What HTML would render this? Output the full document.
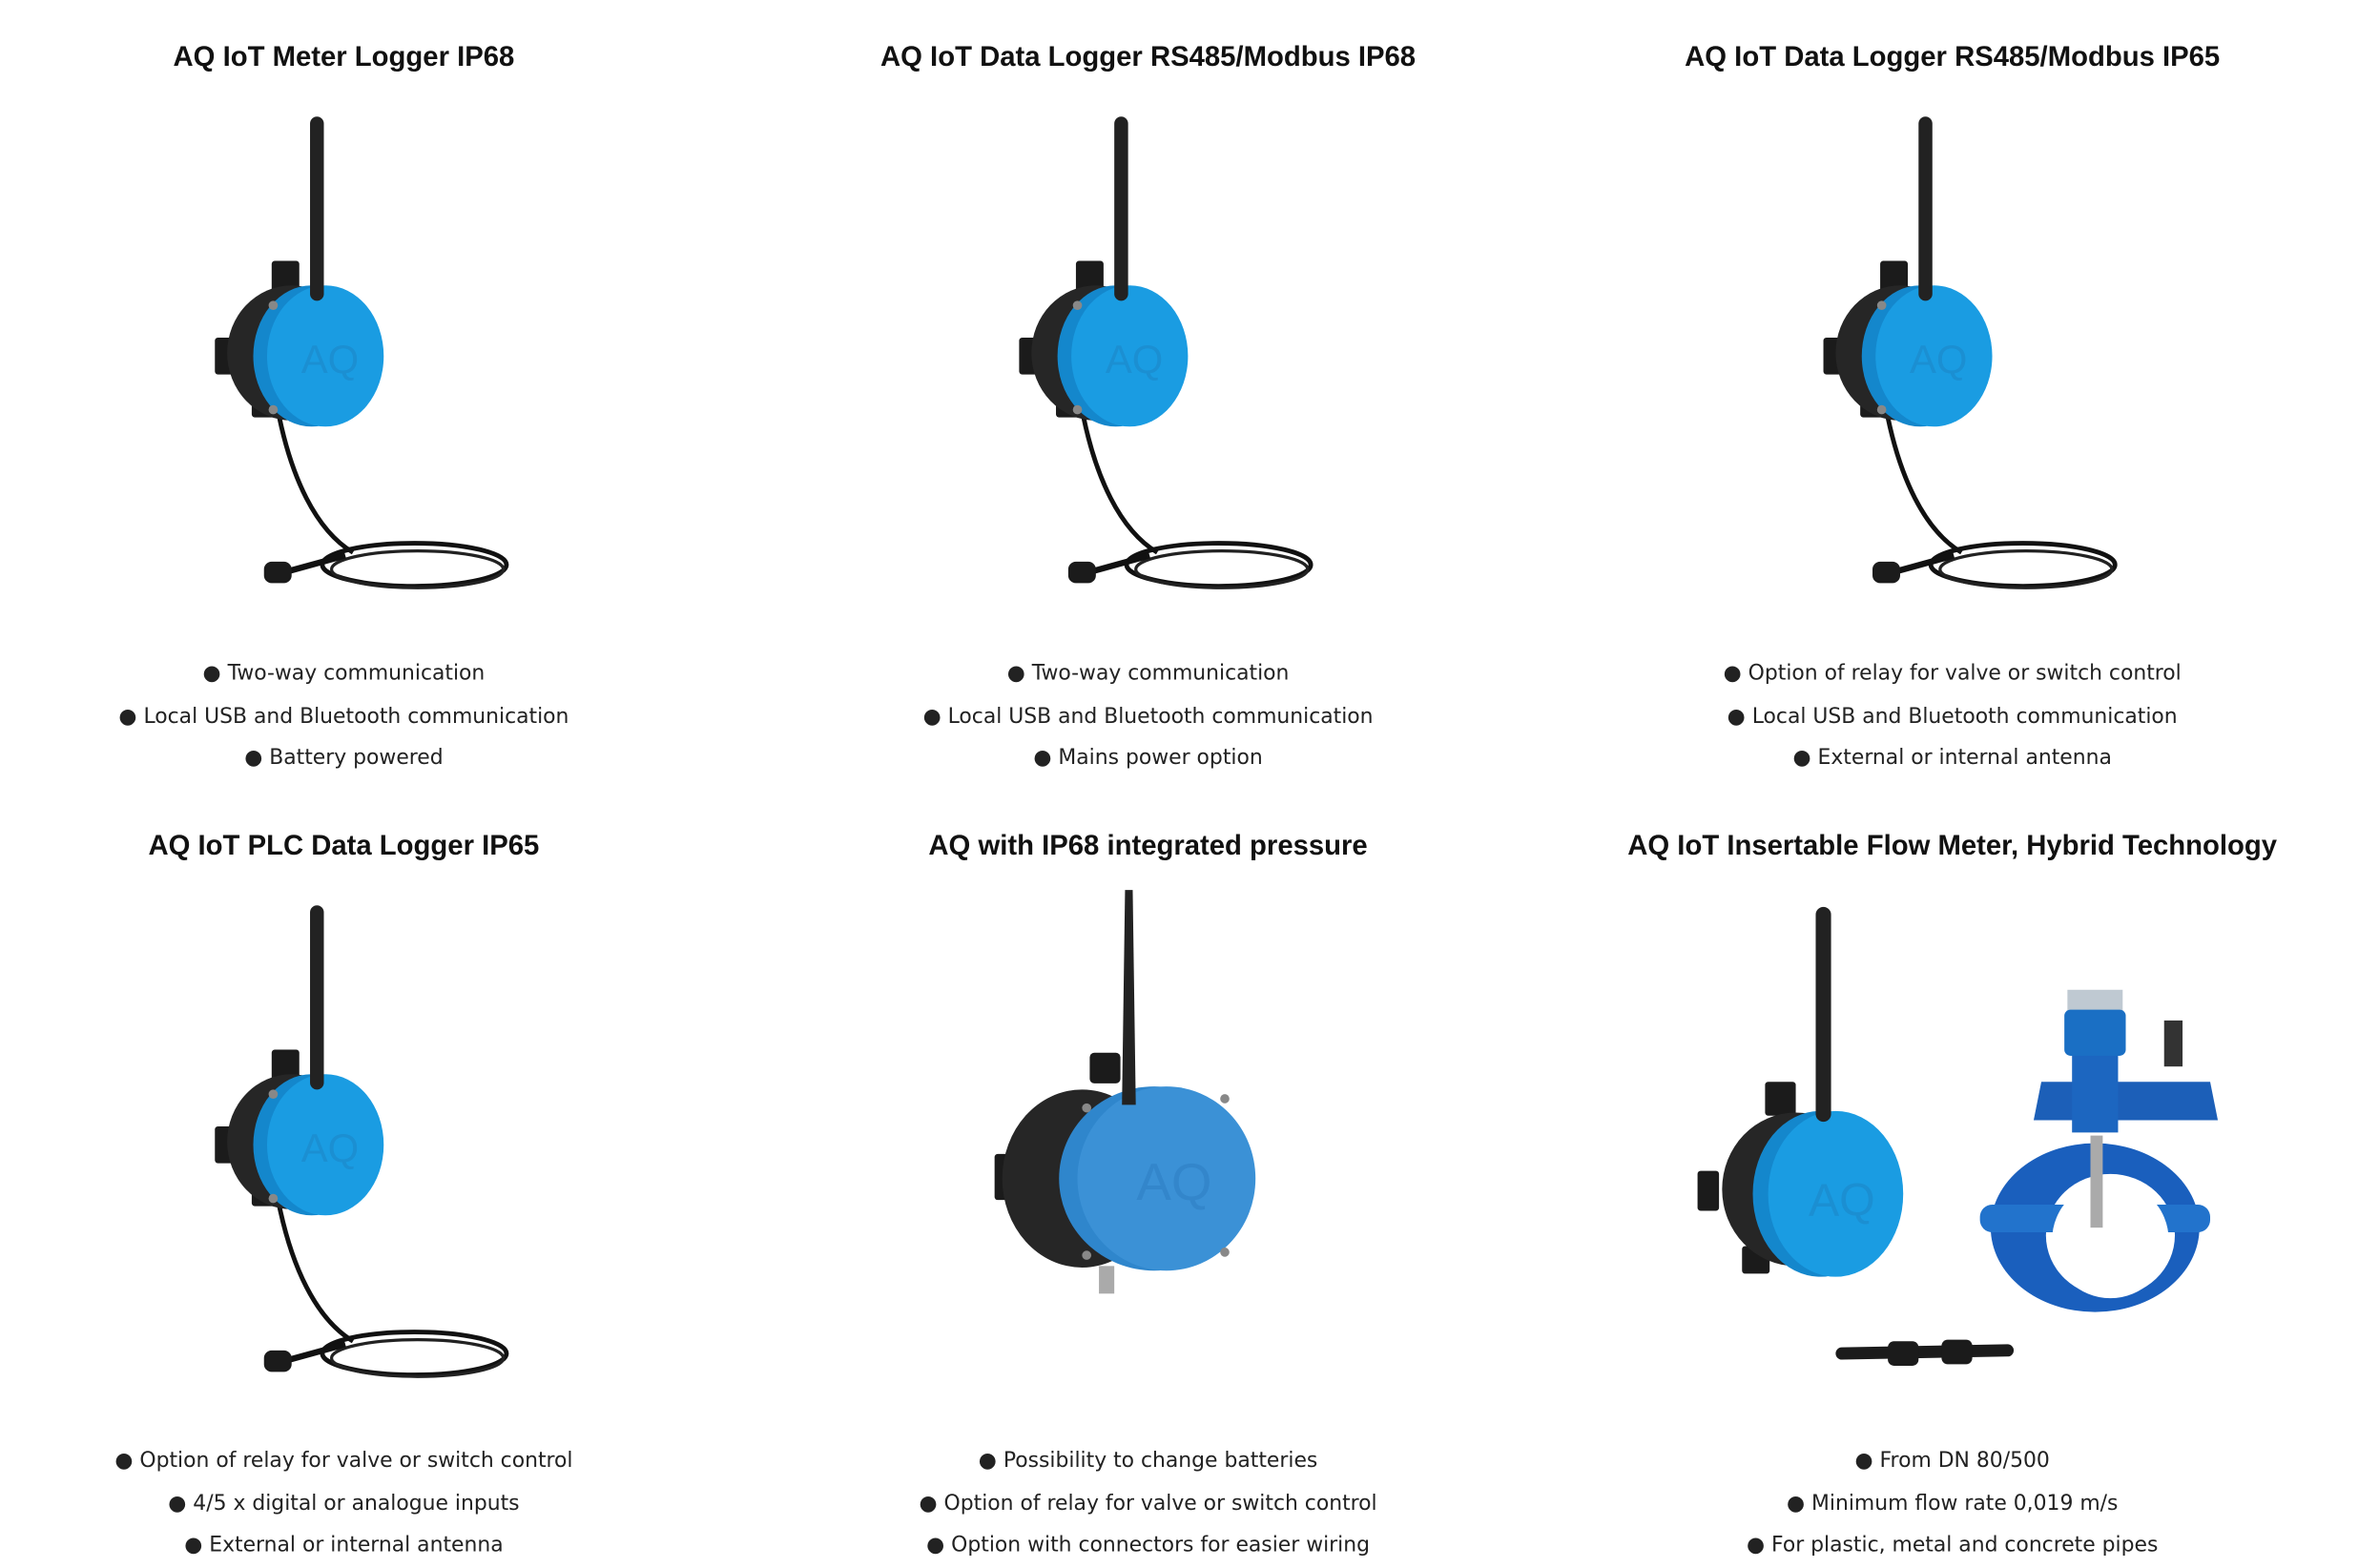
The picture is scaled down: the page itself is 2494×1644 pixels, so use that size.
<!DOCTYPE html>
<html><head><meta charset="utf-8"><style>
html,body{margin:0;padding:0;background:#fff;}
svg{display:block;}
.t{font-family:"Liberation Sans",sans-serif;font-weight:bold;font-size:18.2px;fill:#111;text-anchor:middle;}
.b{font-family:"DejaVu Sans","Liberation Sans",sans-serif;font-size:13.6px;fill:#222;text-anchor:middle;}
</style></head><body>
<svg width="2494" height="1644" viewBox="0 0 1550 1021.8" preserveAspectRatio="none" xmlns="http://www.w3.org/2000/svg">
<defs>
<g id="dev">
  <path d="M182 272 C 190 310, 205 345, 230 360" fill="none" stroke="#111" stroke-width="3"/>
  <ellipse cx="270" cy="368" rx="60" ry="14" fill="none" stroke="#111" stroke-width="3"/>
  <ellipse cx="272" cy="371" rx="56" ry="12" fill="none" stroke="#222" stroke-width="2"/>
  <path d="M185 373 L 225 362" stroke="#111" stroke-width="4"/>
  <rect x="172" y="366" width="18" height="14" rx="5" fill="#1b1b1b"/>
  <rect x="177" y="170" width="18" height="22" rx="2" fill="#1b1b1b"/>
  <rect x="140" y="220" width="14" height="24" rx="2" fill="#1b1b1b"/>
  <rect x="164" y="256" width="16" height="16" rx="2" fill="#1b1b1b"/>
  <ellipse cx="190" cy="230" rx="42" ry="44" fill="#262626"/>
  <ellipse cx="203" cy="232" rx="38" ry="46" fill="#1487cc"/>
  <ellipse cx="212" cy="232" rx="38" ry="46" fill="#1a9ce2"/>
  <rect x="202" y="76" width="9" height="120" rx="4.5" fill="#222"/>
  <circle cx="178" cy="199" r="3" fill="#888"/>
  <circle cx="178" cy="267" r="3" fill="#888"/>
  <text x="215" y="243" font-family="Liberation Sans,sans-serif" font-size="26" fill="#1b8fd2" text-anchor="middle">AQ</text>
</g>
</defs>

<text class="t" x="224" y="43">AQ IoT Meter Logger IP68</text>
<text class="t" x="748" y="43">AQ IoT Data Logger RS485/Modbus IP68</text>
<text class="t" x="1272" y="43">AQ IoT Data Logger RS485/Modbus IP65</text>

<use href="#dev"/>
<use href="#dev" transform="translate(524,0)"/>
<use href="#dev" transform="translate(1048,0)"/>

<text class="b" x="224" y="443">● Two-way communication</text>
<text class="b" x="224" y="471">● Local USB and Bluetooth communication</text>
<text class="b" x="224" y="498">● Battery powered</text>
<text class="b" x="748" y="443">● Two-way communication</text>
<text class="b" x="748" y="471">● Local USB and Bluetooth communication</text>
<text class="b" x="748" y="498">● Mains power option</text>
<text class="b" x="1272" y="443">● Option of relay for valve or switch control</text>
<text class="b" x="1272" y="471">● Local USB and Bluetooth communication</text>
<text class="b" x="1272" y="498">● External or internal antenna</text>

<text class="t" x="224" y="557">AQ IoT PLC Data Logger IP65</text>
<text class="t" x="748" y="557">AQ with IP68 integrated pressure</text>
<text class="t" x="1272" y="557">AQ IoT Insertable Flow Meter, Hybrid Technology</text>

<use href="#dev" transform="translate(0,514)"/>

<g>
  <rect x="648" y="752" width="16" height="30" rx="2" fill="#1b1b1b"/>
  <rect x="710" y="686" width="20" height="20" rx="3" fill="#1b1b1b"/>
  <ellipse cx="705" cy="768" rx="52" ry="58" fill="#262626"/>
  <rect x="716" y="825" width="10" height="18" fill="#aaa"/>
  <ellipse cx="752" cy="768" rx="62" ry="60" fill="#2f86cc"/>
  <ellipse cx="760" cy="768" rx="58" ry="60" fill="#3b91d6"/>
  <path d="M733 580 L738 580 L740 720 L731 720 Z" fill="#222"/>
  <circle cx="708" cy="722" r="3" fill="#888"/><circle cx="798" cy="716" r="3" fill="#888"/>
  <circle cx="708" cy="818" r="3" fill="#888"/><circle cx="798" cy="816" r="3" fill="#888"/>
  <text x="765" y="782" font-family="Liberation Sans,sans-serif" font-size="34" fill="#3386cb" text-anchor="middle">AQ</text>
</g>

<g>
  <rect x="1150" y="705" width="20" height="22" rx="2" fill="#1b1b1b"/>
  <rect x="1106" y="763" width="14" height="26" rx="2" fill="#1b1b1b"/>
  <rect x="1135" y="812" width="18" height="18" rx="2" fill="#1b1b1b"/>
  <ellipse cx="1170" cy="775" rx="48" ry="50" fill="#262626"/>
  <ellipse cx="1186" cy="778" rx="44" ry="54" fill="#1487cc"/>
  <ellipse cx="1196" cy="778" rx="44" ry="54" fill="#1a9ce2"/>
  <rect x="1183" y="591" width="10" height="140" rx="5" fill="#222"/>
  <text x="1200" y="792" font-family="Liberation Sans,sans-serif" font-size="30" fill="#1b8fd2" text-anchor="middle">AQ</text>
  <path d="M1200 882 L1308 880" stroke="#1b1b1b" stroke-width="8" stroke-linecap="round"/>
  <rect x="1230" y="874" width="20" height="16" rx="4" fill="#1b1b1b"/>
  <rect x="1265" y="873" width="20" height="16" rx="4" fill="#1b1b1b"/>
  <rect x="1347" y="645" width="36" height="18" fill="#bfc9d2"/>
  <rect x="1345" y="658" width="40" height="30" rx="4" fill="#1a6fc4"/>
  <rect x="1410" y="665" width="12" height="30" fill="#333"/>
  <path d="M1330 705 L1440 705 L1445 730 L1325 730 Z" fill="#1c5fb8"/>
  <rect x="1350" y="688" width="30" height="50" fill="#1c66c0"/>
  <ellipse cx="1365" cy="800" rx="68" ry="55" fill="#1a5fbd"/>
  <ellipse cx="1375" cy="805" rx="42" ry="40" fill="#fff"/>
  <rect x="1290" y="785" width="150" height="18" rx="8" fill="#2273cc"/>
  <ellipse cx="1375" cy="808" rx="38" ry="38" fill="#fff"/>
  <rect x="1362" y="740" width="8" height="60" fill="#aaa"/>
</g>

<text class="b" x="224" y="956">● Option of relay for valve or switch control</text>
<text class="b" x="224" y="984">● 4/5 x digital or analogue inputs</text>
<text class="b" x="224" y="1011">● External or internal antenna</text>
<text class="b" x="748" y="956">● Possibility to change batteries</text>
<text class="b" x="748" y="984">● Option of relay for valve or switch control</text>
<text class="b" x="748" y="1011">● Option with connectors for easier wiring</text>
<text class="b" x="1272" y="956">● From DN 80/500</text>
<text class="b" x="1272" y="984">● Minimum flow rate 0,019 m/s</text>
<text class="b" x="1272" y="1011">● For plastic, metal and concrete pipes</text>
</svg>
</body></html>
